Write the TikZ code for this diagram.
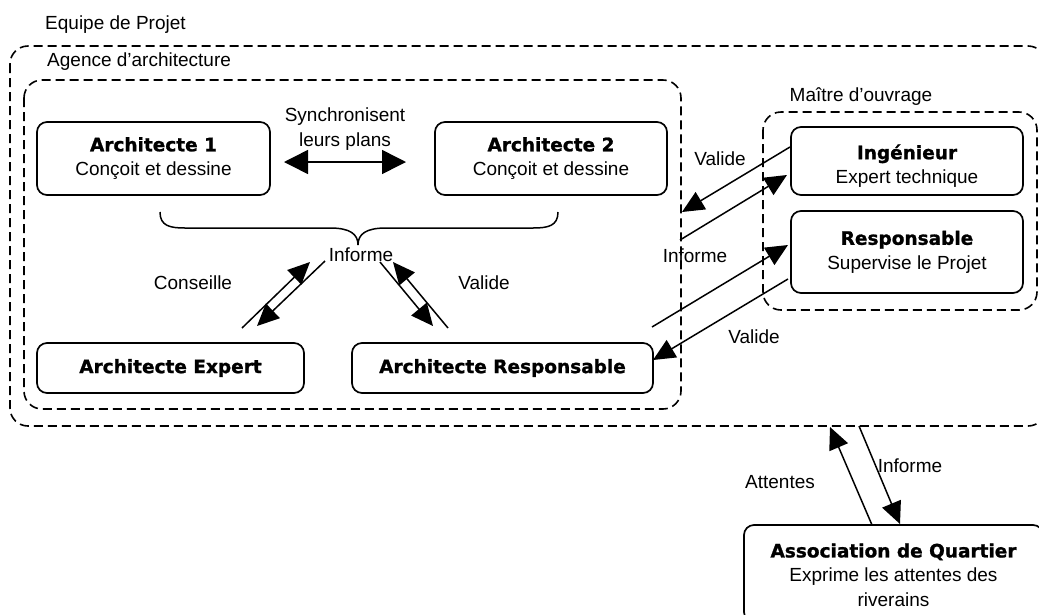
\documentclass[tikz,border=0pt]{standalone}
\usepackage{fontspec}
\setmainfont{Liberation Sans}
\newfontfamily\heavy{DejaVu Sans}[BoldFeatures={FakeBold=1.2}]
\usetikzlibrary{arrows.meta}
\tikzset{
  box/.style={draw, line width=1.7pt, rounded corners=10pt, inner sep=0pt, align=center},
  grp/.style={draw, dash pattern=on 9pt off 5pt, line width=1.6pt, rounded corners=18pt},
  arr/.style={line width=1.5pt, -{Triangle[length=22pt,width=20pt]}},
  lbl/.style={inner sep=0pt, align=center},
}
\newcommand{\hb}[1]{{\fontsize{18.5}{24.5}\selectfont\heavy\bfseries #1}}
\begin{document}
\begin{tikzpicture}[x=1pt,y=-1pt, font=\fontsize{19}{24.5}\selectfont]
\useasboundingbox (0,0) rectangle (1039,614);
\clip (0,0) rectangle (1039,614);
% groups
\draw[grp] (10,46) rectangle (1046,426);
\draw[grp] (24,80) rectangle (681,409);
\draw[grp] (763,112) rectangle (1037,310);
\node[lbl, anchor=west] (lequipe) at (45,25) {Equipe de Projet};
\node[lbl, anchor=west] (lagence) at (47,62) {Agence d’architecture};
\node[lbl] (lmaitre) at (861,97) {Maître d’ouvrage};
% boxes
\node[box, minimum width=233pt, minimum height=73pt] (a1) at (153.5,158.5) {\hb{Architecte 1}\\Conçoit et dessine};
\node[box, minimum width=232pt, minimum height=73pt] (a2) at (551,158.5) {\hb{Architecte 2}\\Conçoit et dessine};
\node[box, minimum width=267pt, minimum height=50pt] (ae) at (170.5,368) {\hb{Architecte Expert}};
\node[box, minimum width=301pt, minimum height=50pt] (ar) at (502.5,368) {\hb{Architecte Responsable}};
\node[box, minimum width=232pt, minimum height=68pt] (ing) at (907,161) {};
\node[lbl] (ingt) at (907,166) {\hb{Ingénieur}\\Expert technique};
\node[box, minimum width=232pt, minimum height=82pt] (resp) at (907,252) {\hb{Responsable}\\Supervise le Projet};
\node[box, minimum width=299pt, minimum height=97pt] (assoc) at (893.5,573.5) {};
\node[lbl] (assoct) at (893.5,575) {\hb{Association de Quartier}\\Exprime les attentes des\\riverains};
% sync
\node[lbl] (lsync) at (345,129) {Synchronisent\\leurs plans};
\coordinate (s1) at (284,162);
\coordinate (s2) at (406,162);
\draw[line width=1.5pt, {Triangle[length=24pt,width=24pt]}-{Triangle[length=24pt,width=24pt]}] (s1) -- (s2);
% brace
\draw[line width=1.5pt] (160,212) .. controls (160,226) and (170,228) .. (185,228) -- (330,228) .. controls (350,228) and (358,234) .. (358,245)
  .. controls (358,234) and (366,228) .. (386,228) -- (533,228) .. controls (548,228) and (558,226) .. (558,212);
\node[lbl] (linf) at (361,255) {Informe};
\node[lbl] (lcons) at (193,283) {Conseille};
\node[lbl] (lval1) at (484,283) {Valide};
% Conseille arrows
\coordinate (c1) at (325,261); \coordinate (c2) at (257,326);
\coordinate (c3) at (242,328); \coordinate (c4) at (310,262);
\draw[arr] (c1) -- (c2);
\draw[arr] (c3) -- (c4);
% Valide arrows (left)
\coordinate (v1) at (380,262); \coordinate (v2) at (433,326);
\coordinate (v3) at (448,328); \coordinate (v4) at (393,262);
\draw[arr] (v1) -- (v2);
\draw[arr] (v3) -- (v4);
% Agence <-> Maitre
\coordinate (m1) at (790,147); \coordinate (m2) at (682,212);
\coordinate (m3) at (680,240); \coordinate (m4) at (787,175);
\coordinate (m5) at (652,327); \coordinate (m6) at (788,245);
\coordinate (m7) at (788,279); \coordinate (m8) at (653,360);
\draw[arr] (m1) -- (m2);
\draw[arr] (m3) -- (m4);
\draw[arr] (m5) -- (m6);
\draw[arr] (m7) -- (m8);
\node[lbl] (lval2) at (720,159) {Valide};
\node[lbl] (linf2) at (695,256) {Informe};
\node[lbl] (lval3) at (754,337) {Valide};
% Association
\coordinate (q1) at (872,525); \coordinate (q2) at (830,427);
\coordinate (q3) at (859,426); \coordinate (q4) at (900,524);
\draw[arr] (q1) -- (q2);
\draw[arr] (q3) -- (q4);
\node[lbl] (latt) at (780,482) {Attentes};
\node[lbl] (linf3) at (910,466) {Informe};
\end{tikzpicture}
\end{document}
